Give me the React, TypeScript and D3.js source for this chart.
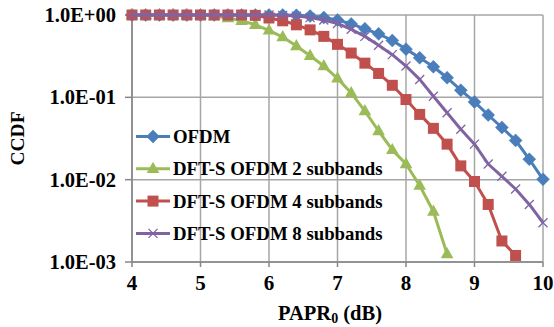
import * as d3 from "d3";

const papr = [
  4.0, 4.2, 4.4, 4.6, 4.8, 5.0, 5.2, 5.4, 5.6, 5.8, 6.0, 6.2, 6.4, 6.6, 6.8, 7.0,
  7.2, 7.4, 7.6, 7.8, 8.0, 8.2, 8.4, 8.6, 8.8, 9.0, 9.2, 9.4, 9.6, 9.8, 10.0,
];

const ofdm = [
  1, 1, 1, 1, 1, 1, 1, 1, 1, 1, 1, 1, 0.99, 0.97, 0.93, 0.87, 0.78, 0.68, 0.59,
  0.49, 0.385, 0.302, 0.235, 0.173, 0.122, 0.088, 0.061, 0.043, 0.03, 0.0177, 0.0101,
];
const sub2 = [
  1, 1, 1, 1, 1, 1, 0.97, 0.92, 0.85, 0.76, 0.65, 0.54, 0.42, 0.32, 0.24, 0.17,
  0.113, 0.068, 0.039, 0.023, 0.0155, 0.0085, 0.0041, 0.00125,
];
const sub4 = [
  1, 1, 1, 1, 1, 1, 1, 1, 1, 0.99, 0.92, 0.85, 0.76, 0.66, 0.55, 0.44, 0.345,
  0.26, 0.195, 0.14, 0.094, 0.062, 0.042, 0.027, 0.0147, 0.0095, 0.005, 0.0018, 0.0012,
];
const sub8 = [
  1, 1, 1, 1, 1, 1, 1, 1, 1, 1, 1, 0.99, 0.97, 0.93, 0.87, 0.79, 0.67, 0.55, 0.43,
  0.33, 0.24, 0.165, 0.103, 0.065, 0.041, 0.027, 0.0155, 0.011, 0.0077, 0.005, 0.003,
];

const seriesNames = [
  "OFDM",
  "DFT-S OFDM 2 subbands",
  "DFT-S OFDM 4 subbands",
  "DFT-S OFDM 8 subbands",
];
const seriesColors = ["#4A7EBB", "#9BBB59", "#C0504D", "#8064A2"];
const seriesMarkers = ["diamond", "triangle", "square", "x"];
const seriesValues = [ofdm, sub2, sub4, sub8];

const xTicks = [4, 5, 6, 7, 8, 9, 10];
const yTicks = [1, 0.1, 0.01, 0.001];
const yTickLabels = ["1.0E+00", "1.0E-01", "1.0E-02", "1.0E-03"];

const W = 554;
const H = 327;
const mg = { top: 15, right: 11, bottom: 65, left: 132 };
const FONT = "'Liberation Serif', 'Times New Roman', serif";

function Marker({ kind, x, y, color }: { kind: string; x: number; y: number; color: string }) {
  if (kind === "diamond") {
    const r = 6.5;
    return (
      <path
        d={`M${x},${y - r}L${x + r},${y}L${x},${y + r}L${x - r},${y}Z`}
        fill={color}
        stroke={color}
        strokeWidth={0.5}
      />
    );
  }
  if (kind === "triangle") {
    const r = 7;
    return (
      <path
        d={`M${x},${y - r}L${x + r * 0.9},${y + r * 0.6}L${x - r * 0.9},${y + r * 0.6}Z`}
        fill={color}
      />
    );
  }
  if (kind === "square") {
    const s = 11;
    return <rect x={x - s / 2} y={y - s / 2} width={s} height={s} fill={color} />;
  }
  const r = 4.5;
  return (
    <path
      d={`M${x - r},${y - r}L${x + r},${y + r}M${x - r},${y + r}L${x + r},${y - r}`}
      stroke={color}
      strokeWidth={1.3}
      fill="none"
    />
  );
}

export default function App() {
  const x = d3.scaleLinear().domain([4, 10]).range([mg.left, W - mg.right]);
  const y = d3.scaleLog().domain([0.001, 1]).range([H - mg.bottom, mg.top]);

  const line = d3
    .line<[number, number]>()
    .x((d) => x(d[0]))
    .y((d) => y(d[1]));

  const legX = 136;
  const legY0 = 136.5;
  const legStep = 32.3;

  return (
    <svg
      width={W}
      height={H}
      style={{ position: "absolute", left: 0, top: 0, background: "#fff" }}
      fontFamily={FONT}
      fontWeight="bold"
    >
      {/* grid */}
      {xTicks.map((t) => (
        <line key={`gx${t}`} x1={x(t)} x2={x(t)} y1={mg.top} y2={H - mg.bottom} stroke="#a6a6a6" strokeWidth={1.5} />
      ))}
      {yTicks.map((t) => (
        <line key={`gy${t}`} x1={mg.left} x2={W - mg.right} y1={y(t)} y2={y(t)} stroke="#a6a6a6" strokeWidth={1.5} />
      ))}
      {/* axes */}
      <line x1={mg.left} x2={mg.left} y1={mg.top} y2={H - mg.bottom} stroke="#868686" strokeWidth={1.5} />
      <line x1={mg.left} x2={W - mg.right} y1={H - mg.bottom} y2={H - mg.bottom} stroke="#868686" strokeWidth={1.5} />
      {yTicks.map((t, i) => (
        <g key={`ty${t}`}>
          <line x1={mg.left - 7} x2={mg.left} y1={y(t)} y2={y(t)} stroke="#868686" strokeWidth={1.5} />
          <text x={116} y={y(t) + 7} textAnchor="end" fontSize={20.5}>
            {yTickLabels[i]}
          </text>
        </g>
      ))}
      {xTicks.map((t) => (
        <g key={`tx${t}`}>
          <line x1={x(t)} x2={x(t)} y1={H - mg.bottom} y2={H - mg.bottom + 5} stroke="#868686" strokeWidth={1.5} />
          <text x={x(t)} y={290} textAnchor="middle" fontSize={21}>
            {t}
          </text>
        </g>
      ))}
      {/* axis titles */}
      <text x={330} y={320} textAnchor="middle" fontSize={20.5}>
        PAPR
        <tspan fontSize={14} dy={3}>0</tspan>
        <tspan dy={-3}> (dB)</tspan>
      </text>
      <text transform={`translate(24, ${(mg.top + H - mg.bottom) / 2}) rotate(-90)`} textAnchor="middle" fontSize={19.5}>
        CCDF
      </text>
      {/* series */}
      {seriesValues.map((vals, si) => {
        const pts = vals.map((v, i) => [papr[i], v] as [number, number]);
        return (
          <g key={seriesNames[si]}>
            <path d={line(pts) ?? ""} fill="none" stroke={seriesColors[si]} strokeWidth={3} strokeLinejoin="round" />
            {pts.map((p, i) => (
              <Marker key={i} kind={seriesMarkers[si]} x={x(p[0])} y={y(p[1])} color={seriesColors[si]} />
            ))}
          </g>
        );
      })}
      {/* legend */}
      {seriesNames.map((name, i) => {
        const cy = legY0 + i * legStep;
        return (
          <g key={`leg${i}`}>
            <line x1={legX} x2={legX + 34} y1={cy} y2={cy} stroke={seriesColors[i]} strokeWidth={3} />
            <Marker kind={seriesMarkers[i]} x={legX + 17} y={cy} color={seriesColors[i]} />
            <text x={173} y={cy + 6.5} fontSize={18.8}>
              {name}
            </text>
          </g>
        );
      })}
    </svg>
  );
}
